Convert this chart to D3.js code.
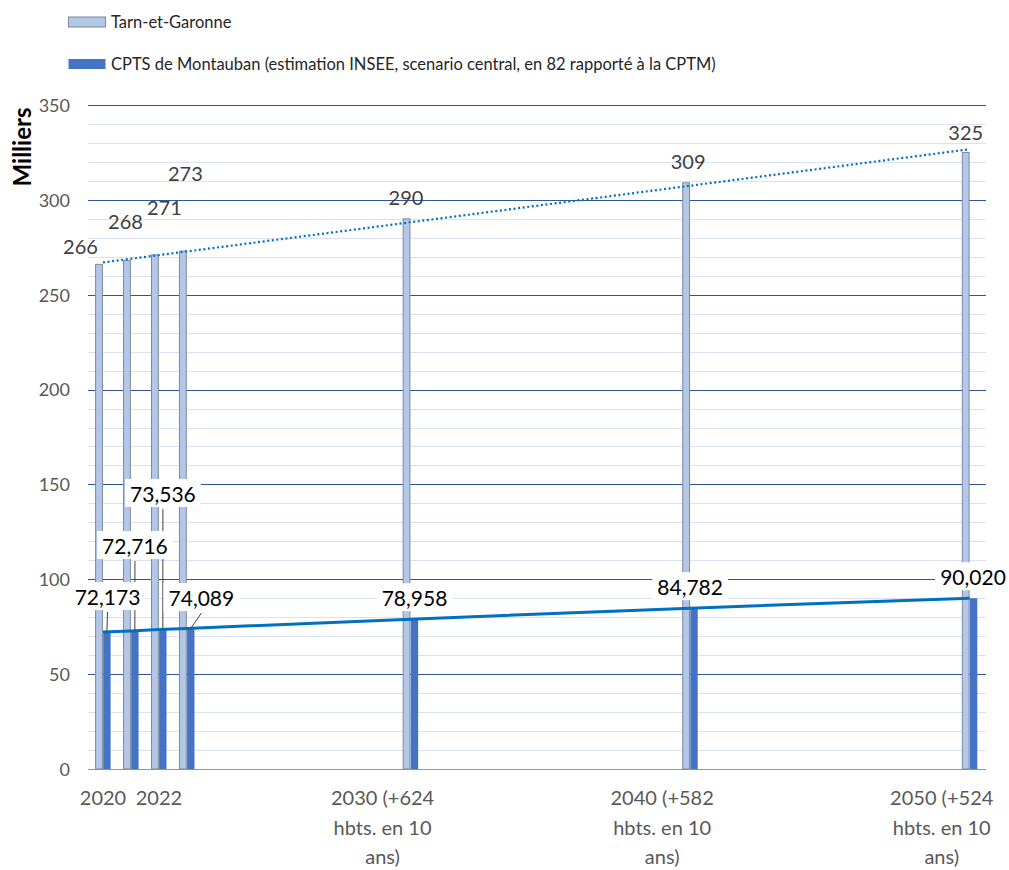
<!DOCTYPE html>
<html><head><meta charset="utf-8">
<script src="https://cdn.jsdelivr.net/npm/d3@7"></script>
<style>body{margin:0;background:#fff}svg{display:block}text{font-family:Lato,"Open Sans",sans-serif}</style>
</head><body><svg id="c" width="1009" height="870"></svg>
<script>
// ---- data ----
const categories = ["2020","2021","2022","2023","2030","2040","2050"];
const barYears = [2020, 2021, 2022, 2023, 2031, 2041, 2051];
const tarnValues = [266, 268, 271, 273, 290, 309, 325];
const cptsValues = [72.173, 72.716, 73.536, 74.089, 78.958, 84.782, 90.020];
const cptsLabels = ["72,173","72,716","73,536","74,089","78,958","84,782","90,020"];
const tickYears = [2020, 2022, 2030, 2040, 2050];
const tickLabels = [["2020"],["2022"],["2030 (+624","hbts. en 10","ans)"],["2040 (+582","hbts. en 10","ans)"],["2050 (+524","hbts. en 10","ans)"]];
const yTicks = [0, 50, 100, 150, 200, 250, 300, 350];
const seriesNames = ["Tarn-et-Garonne","CPTS de Montauban (estimation INSEE, scenario central, en 82 rapporté à la CPTM)"];
const yTitle = "Milliers";

// ---- layout (label placement offsets, px) ----
const tarnLabelOffsets = [[-22.5,-17.7],[-5.5,-39],[5.5,-47],[-1.5,-77],[-4.6,-21],[-2,-21],[-4,-19.5]];
const cptsLabelOffsets = [[4.5,-35],[4,-85],[4,-135.5],[14.5,-30.4],[4,-21],[0,-21],[3.3,-21]];
const leaderCount = 4;

const svg = d3.select("#c");
svg.append("rect").attr("width",1009).attr("height",870).attr("fill","#fff");

const plot = {left: 88, right: 986, top: 105, bottom: 769};
const x = d3.scaleLinear().domain([2020, 2051]).range([103, 969.7]);
const y = d3.scaleLinear().domain([0, 350]).range([plot.bottom, plot.top]);
const bw = 7.4;

// minor gridlines
const minor = d3.range(10, 350, 10).filter(v => v % 50 !== 0);
svg.append("g").selectAll("line").data(minor).join("line")
  .attr("x1", plot.left).attr("x2", plot.right)
  .attr("y1", d => Math.round(y(d)) + 0.5).attr("y2", d => Math.round(y(d)) + 0.5)
  .attr("stroke", "#D9E1F2").attr("stroke-width", 1);
// major gridlines
svg.append("g").selectAll("line").data(yTicks.filter(d => d > 0)).join("line")
  .attr("x1", plot.left).attr("x2", plot.right)
  .attr("y1", d => Math.round(y(d)) + 0.5).attr("y2", d => Math.round(y(d)) + 0.5)
  .attr("stroke", "#2F5597").attr("stroke-width", 1);
// baseline
svg.append("line").attr("x1", plot.left).attr("x2", plot.right)
  .attr("y1", Math.round(y(0)) + 0.5).attr("y2", Math.round(y(0)) + 0.5)
  .attr("stroke", "#8A96AA").attr("stroke-width", 1.2);

// y axis labels
const yAxis = d3.axisLeft(y).tickValues(yTicks).tickSize(0).tickPadding(0);
const ya = svg.append("g").attr("transform", "translate(70,0)").call(yAxis);
ya.select(".domain").remove();
ya.selectAll("text").attr("font-family", "Lato").attr("font-size", 18).attr("fill", "#595959").attr("dy", "0.35em");

// y title
svg.append("text").attr("transform", "translate(31,147) rotate(-90)")
  .attr("text-anchor", "middle").attr("font-size", 24).attr("font-weight", "bold").attr("fill", "#000")
  .text(yTitle);

// x tick labels
const xt = svg.append("g").selectAll("text").data(tickYears).join("text")
  .attr("x", d => x(d)).attr("y", 805).attr("text-anchor", "middle")
  .attr("font-size", 20).attr("fill", "#595959");
xt.each(function(d, i) {
  d3.select(this).selectAll("tspan").data(tickLabels[i]).join("tspan")
    .attr("x", x(d)).attr("dy", (t, j) => j === 0 ? 0 : 29.5).text(t => t);
});

// light bars
svg.append("g").selectAll("rect").data(tarnValues).join("rect")
  .attr("x", (d, i) => x(barYears[i]) - bw).attr("width", bw - 0.6)
  .attr("y", d => y(d)).attr("height", d => y(0) - y(d))
  .attr("fill", "#B4C7E7").attr("stroke", "#7C8AA0").attr("stroke-width", 1);
// dark bars
svg.append("g").selectAll("rect").data(cptsValues).join("rect")
  .attr("x", (d, i) => x(barYears[i]) + 0.2).attr("width", bw)
  .attr("y", d => y(d)).attr("height", d => y(0) - y(d))
  .attr("fill", "#4472C4");

// trend (linear regression) for Tarn-et-Garonne
const mx = d3.mean(barYears), my = d3.mean(tarnValues);
const sxy = d3.sum(barYears, (v, i) => (v - mx) * (tarnValues[i] - my));
const sxx = d3.sum(barYears, v => (v - mx) ** 2);
const slope = sxy / sxx, icpt = my - slope * mx;
const x0 = barYears[0], x1 = barYears[barYears.length - 1];
svg.append("line")
  .attr("x1", x(x0)).attr("y1", y(icpt + slope * x0))
  .attr("x2", x(x1)).attr("y2", y(icpt + slope * x1))
  .attr("stroke", "#0070C0").attr("stroke-width", 2.2)
  .attr("stroke-dasharray", "2,2.6");

// CPTS line
const line = d3.line().x((d, i) => x(barYears[i])).y(d => y(d));
svg.append("path").datum(cptsValues).attr("d", line)
  .attr("fill", "none").attr("stroke", "#0070C0").attr("stroke-width", 3);

// light labels
svg.append("g").selectAll("text").data(tarnValues).join("text")
  .attr("x", (d, i) => x(barYears[i]) + tarnLabelOffsets[i][0])
  .attr("y", (d, i) => y(d) + tarnLabelOffsets[i][1] + 0.36 * 20)
  .attr("text-anchor", "middle").attr("font-size", 20).attr("fill", "#404040")
  .text(d => d3.format("d")(d));

// dark labels with boxes and leaders
const lg = svg.append("g");
cptsValues.forEach((v, i) => {
  const px = x(barYears[i]) + 0.2 + bw / 2, py = y(v);
  const cx = x(barYears[i]) + cptsLabelOffsets[i][0];
  const cy = y(v) + cptsLabelOffsets[i][1];
  const g = lg.append("g");
  const box = g.append("rect");
  const t = g.append("text").attr("x", cx).attr("y", cy + 0.36 * 21)
    .attr("text-anchor", "middle").attr("font-size", 21).attr("fill", "#000").text(cptsLabels[i]);
  const w = t.node().getComputedTextLength();
  const top = cy - 15, bot = cy + 13;
  box.attr("x", cx - w / 2 - 5).attr("y", top).attr("width", w + 10).attr("height", bot - top).attr("fill", "#fff");
  if (i < leaderCount) {
    lg.insert("line", ":first-child")
      .attr("x1", cx).attr("y1", bot + 2).attr("x2", px).attr("y2", py)
      .attr("stroke", "#404040").attr("stroke-width", 1);
  }
});

// legend
const legend = svg.append("g");
const lcol = [{fill: "#B4C7E7", stroke: "#7C8AA0"}, {fill: "#4472C4", stroke: "none"}];
seriesNames.forEach((n, i) => {
  const yy = [22, 64][i];
  legend.append("rect").attr("x", 68.5).attr("y", yy - 5).attr("width", 37).attr("height", 10)
    .attr("fill", lcol[i].fill).attr("stroke", lcol[i].stroke);
  legend.append("text").attr("x", 111).attr("y", yy + 6).attr("font-size", 16.5).attr("fill", "#262626").text(n);
});
</script></body></html>
